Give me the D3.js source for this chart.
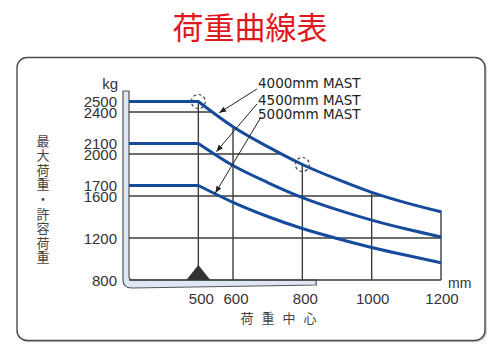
<!DOCTYPE html>
<html><head><meta charset="utf-8">
<script src="https://cdn.jsdelivr.net/npm/d3@7"></script>
<style>html,body{margin:0;padding:0;background:#fff;} svg{display:block}</style>
</head><body><svg id="c" width="500" height="353"></svg>
<script>
// ---- data ----
const title = "荷重曲線表";
const yTitle = "最大荷重・許容荷重";
const xTitle = "荷重中心";
const xUnit = "mm", yUnit = "kg";
const xTickValues = [500, 600, 800, 1000, 1200];
const yTickValues = [2500, 2400, 2100, 2000, 1700, 1600, 1200, 800];
const gridX = [500, 600, 800, 1000, 1200];
const gridY = [2400, 2000, 1600, 1200, 800];
const seriesNames = ["4000mm MAST", "4500mm MAST", "5000mm MAST"];
const loadCenters = [300, 500, 600, 700, 800, 900, 1000, 1100, 1200];
const mast4000 = [2500, 2500, 2260, 2070, 1900, 1760, 1635, 1535, 1450];
const mast4500 = [2100, 2100, 1890, 1728, 1585, 1470, 1370, 1285, 1210];
const mast5000 = [1700, 1700, 1540, 1405, 1290, 1195, 1110, 1035, 965];
const markerPoints = [[500, 2500], [800, 1900]];
const leaderFrom = [[669, 2619], [669, 2476], [681, 2352]];
const leaderTo = [[560, 2392], [552, 2022], [549, 1628]];
const labelAt = [[672, 2676], [672, 2514], [672, 2381]];

// ---- layout ----
const svg = d3.select("#c");
const x = d3.scaleLinear().domain([300, 1200]).range([129, 441]);
const y = d3.scaleLinear().domain([800, 2400]).range([280, 112]);
const blue = "#164a9a", gridC = "#3c3c3c", txt = "#333";
const numFont = "'Liberation Sans', Arial, sans-serif";
const cjk = "'Noto Sans CJK JP', 'Noto Sans CJK SC', sans-serif";

// title
svg.append("text").attr("x", 250).attr("y", 25).attr("text-anchor", "middle")
  .attr("dominant-baseline", "central").attr("fill", "#e01820")
  .style("font-family", cjk).style("font-size", "31px").text(title);

// outer frame
svg.append("rect").attr("x", 18).attr("y", 58.5).attr("width", 468).attr("height", 283)
  .attr("rx", 10).attr("fill", "none").attr("stroke", "#ccc").attr("stroke-width", 1.5);
svg.append("rect").attr("x", 17).attr("y", 57.5).attr("width", 468).attr("height", 283)
  .attr("rx", 10).attr("fill", "#fff").attr("stroke", "#4a4a4a").attr("stroke-width", 1.4);

// fork shape
const fx0 = x(300) - 6, fx1 = x(300), fTop = y(2500) - 10.5, fBot = y(800), fEnd = x(840);
svg.append("path")
  .attr("d", `M${fx0},${fTop} L${fx0},${fBot} Q${fx0},${fBot + 8} ${fx0 + 9},${fBot + 8} L${fEnd},${fBot + 5} L${fEnd},${fBot} L${fx1 + 4},${fBot} Q${fx1},${fBot} ${fx1},${fBot - 4} L${fx1},${fTop} Z`)
  .attr("fill", "#dde8f4").attr("stroke", "#555").attr("stroke-width", 1.2);

// clip: area under top curve
const pts = (arr) => loadCenters.map((c, i) => [c, arr[i]]);
const topPts = pts(mast4000);
const defs = svg.append("defs");
const clip = defs.append("clipPath").attr("id", "under");
clip.append("rect").attr("x", x(300) - 1).attr("y", y(2500) - 1)
  .attr("width", x(500) - x(300) + 1).attr("height", y(800) - y(2500) + 4);
clip.append("path").attr("d", d3.area().x(d => x(d[0])).y0(y(800) + 3).y1(d => y(d[1]) - 1)
  .curve(d3.curveMonotoneX)(topPts.slice(1).map((d, i) => i === topPts.length - 2 ? [d[0] + 3, d[1]] : d)));

const grid = svg.append("g").attr("clip-path", "url(#under)")
  .attr("stroke", gridC).attr("stroke-width", 1.4);
grid.selectAll(".gy").data(gridY).join("line")
  .attr("x1", x(300)).attr("x2", x(1200)).attr("y1", d => y(d)).attr("y2", d => y(d));
grid.selectAll(".gx").data(gridX).join("line")
  .attr("x1", d => x(d)).attr("x2", d => x(d)).attr("y1", y(2500)).attr("y2", y(800));

// triangle marker at 500
svg.append("path")
  .attr("d", `M${x(500) - 12},${y(800)} L${x(500)},${y(800) - 15} L${x(500) + 12},${y(800)} Z`)
  .attr("fill", "#333");

// curves
const flat = d3.line().x(d => x(d[0])).y(d => y(d[1]));
const curve = d3.line().x(d => x(d[0])).y(d => y(d[1])).curve(d3.curveMonotoneX);
[mast4000, mast4500, mast5000].forEach(arr => {
  const p = pts(arr);
  svg.append("path").attr("d", flat(p.slice(0, 2)) + "L" + curve(p.slice(1)).slice(1))
    .attr("fill", "none").attr("stroke", blue).attr("stroke-width", 3)
    .attr("stroke-linejoin", "round");
});

// dashed circles
svg.selectAll(".mk").data(markerPoints).join("circle")
  .attr("cx", d => x(d[0])).attr("cy", d => y(d[1])).attr("r", 7)
  .attr("fill", "none").attr("stroke", "#444").attr("stroke-width", 1.2)
  .attr("stroke-dasharray", "3,2.5");

// leader arrows
defs.append("marker").attr("id", "ah").attr("viewBox", "0 0 10 10").attr("refX", 10).attr("refY", 5)
  .attr("markerWidth", 7).attr("markerHeight", 7).attr("markerUnits", "userSpaceOnUse")
  .attr("orient", "auto").append("path").attr("d", "M0,1 L10,5 L0,9 Z").attr("fill", "#222");
leaderFrom.forEach((f, i) => {
  svg.append("line").attr("x1", x(f[0])).attr("y1", y(f[1]))
    .attr("x2", x(leaderTo[i][0])).attr("y2", y(leaderTo[i][1]))
    .attr("stroke", "#222").attr("stroke-width", 1).attr("marker-end", "url(#ah)");
});
svg.selectAll(".lab").data(seriesNames).join("text")
  .attr("x", (d, i) => x(labelAt[i][0])).attr("y", (d, i) => y(labelAt[i][1]))
  .attr("dominant-baseline", "central").attr("fill", "#222")
  .style("font-family", "'DejaVu Sans', sans-serif").style("font-size", "13.5px").text(d => d);

// y tick labels
svg.selectAll(".yt").data(yTickValues).join("text")
  .attr("x", 117).attr("y", d => y(d)).attr("text-anchor", "end").attr("dominant-baseline", "central")
  .attr("fill", txt).style("font-family", numFont).style("font-size", "15px").text(d => d);
svg.append("text").attr("x", 118).attr("y", 83).attr("text-anchor", "end").attr("dominant-baseline", "central")
  .attr("fill", txt).style("font-family", numFont).style("font-size", "15px").text(yUnit);

// x tick labels
svg.selectAll(".xt").data(xTickValues).join("text")
  .attr("x", d => x(d) + (d < 1000 ? 3 : 1)).attr("y", 298).attr("text-anchor", "middle").attr("dominant-baseline", "central")
  .attr("fill", txt).style("font-family", numFont).style("font-size", "15px").text(d => d);
svg.append("text").attr("x", 448).attr("y", 283).attr("dominant-baseline", "central")
  .attr("fill", txt).style("font-family", numFont).style("font-size", "14px").text(xUnit);

// axis titles
svg.selectAll(".xtt").data(Array.from(xTitle)).join("text")
  .attr("x", (d, i) => 247 + i * 21).attr("y", 317).attr("text-anchor", "middle").attr("dominant-baseline", "central")
  .attr("fill", "#444").style("font-family", cjk).style("font-size", "13px").text(d => d);
svg.selectAll(".ytt").data(Array.from(yTitle)).join("text")
  .attr("x", 43).attr("y", (d, i) => 140 + i * 14.6).attr("text-anchor", "middle").attr("dominant-baseline", "central")
  .attr("fill", "#444").style("font-family", cjk).style("font-size", "13px").text(d => d);
</script></body></html>
